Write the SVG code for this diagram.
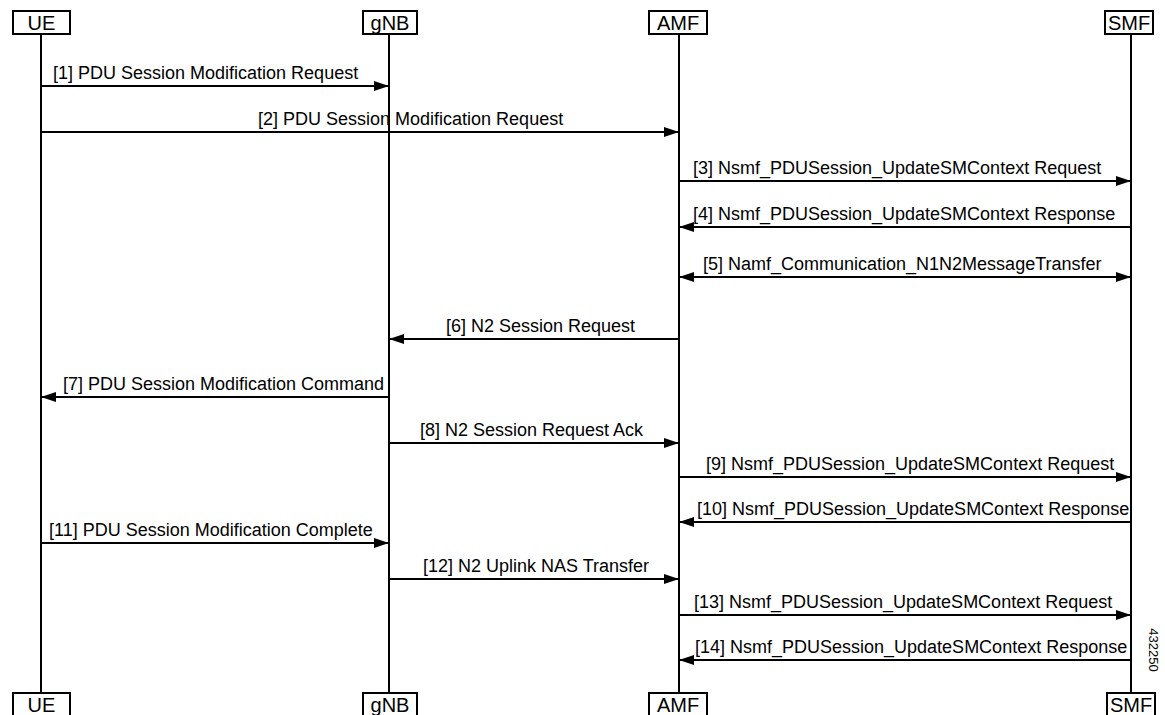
<svg xmlns="http://www.w3.org/2000/svg" width="1165" height="715" viewBox="0 0 1165 715">
<style>
text{font-family:"Liberation Sans",Arial,sans-serif;font-size:18px;fill:#000}
.box{fill:#fff;stroke:#000;stroke-width:2}
.life{stroke:#000;stroke-width:2}
.msg{stroke:#000;stroke-width:2;fill:none}
.arr{marker-end:url(#ah)}
.bi{marker-end:url(#ah);marker-start:url(#ah)}
.lbl{text-anchor:middle;font-size:20px}
</style>
<defs>
<marker id="ah" markerUnits="userSpaceOnUse" markerWidth="16" markerHeight="10" refX="15" refY="5" orient="auto-start-reverse" viewBox="0 0 16 10">
<path d="M0,0 L15,5 L0,10 z" fill="#000"/>
</marker>
</defs>
<rect width="1165" height="715" fill="#fff"/>
<g id="lifelines">
<line class="life" x1="41" y1="34" x2="41" y2="693"/>
<line class="life" x1="389" y1="34" x2="389" y2="693"/>
<line class="life" x1="679" y1="34" x2="679" y2="693"/>
<line class="life" x1="1131" y1="34" x2="1131" y2="693"/>
</g>
<g id="UE">
<rect class="box" x="13" y="11" width="57" height="23"/>
<text class="lbl" x="41.5" y="30">UE</text>
<rect class="box" x="13" y="693" width="57" height="24"/>
<text class="lbl" x="41.5" y="712">UE</text>
</g>
<g id="gNB">
<rect class="box" x="363" y="11" width="54" height="23"/>
<text class="lbl" x="390" y="30">gNB</text>
<rect class="box" x="363" y="693" width="54" height="24"/>
<text class="lbl" x="390" y="712">gNB</text>
</g>
<g id="AMF">
<rect class="box" x="649" y="11" width="58" height="23"/>
<text class="lbl" x="678" y="30">AMF</text>
<rect class="box" x="649" y="693" width="58" height="24"/>
<text class="lbl" x="678" y="712">AMF</text>
</g>
<g id="SMF">
<rect class="box" x="1105" y="11" width="48" height="23"/>
<text class="lbl" x="1129" y="30">SMF</text>
<rect class="box" x="1107" y="693" width="48" height="24"/>
<text class="lbl" x="1131" y="712">SMF</text>
</g>
<g id="connectors">
<line class="msg arr" x1="41" y1="86" x2="389" y2="86"/>
<line class="msg arr" x1="41" y1="132" x2="679" y2="132"/>
<line class="msg arr" x1="679" y1="181" x2="1131" y2="181"/>
<line class="msg arr" x1="1131" y1="227" x2="679" y2="227"/>
<line class="msg bi" x1="679" y1="277" x2="1131" y2="277"/>
<line class="msg arr" x1="679" y1="339" x2="389" y2="339"/>
<line class="msg arr" x1="389" y1="397" x2="41" y2="397"/>
<line class="msg arr" x1="389" y1="443" x2="679" y2="443"/>
<line class="msg arr" x1="679" y1="477" x2="1131" y2="477"/>
<line class="msg arr" x1="1131" y1="522" x2="679" y2="522"/>
<line class="msg arr" x1="41" y1="543" x2="389" y2="543"/>
<line class="msg arr" x1="389" y1="579" x2="679" y2="579"/>
<line class="msg arr" x1="679" y1="615" x2="1131" y2="615"/>
<line class="msg arr" x1="1131" y1="660" x2="679" y2="660"/>
</g>
<g id="labels">
<text x="53" y="79">[1] PDU Session Modification Request</text>
<text x="258" y="125">[2] PDU Session Modification Request</text>
<text x="693" y="174">[3] Nsmf_PDUSession_UpdateSMContext Request</text>
<text x="693" y="220">[4] Nsmf_PDUSession_UpdateSMContext Response</text>
<text x="703" y="270">[5] Namf_Communication_N1N2MessageTransfer</text>
<text x="446" y="332">[6] N2 Session Request</text>
<text x="63" y="390">[7] PDU Session Modification Command</text>
<text x="420" y="436">[8] N2 Session Request Ack</text>
<text x="706" y="470">[9] Nsmf_PDUSession_UpdateSMContext Request</text>
<text x="697" y="515">[10] Nsmf_PDUSession_UpdateSMContext Response</text>
<text x="49" y="536">[11] PDU Session Modification Complete</text>
<text x="423" y="572">[12] N2 Uplink NAS Transfer</text>
<text x="694" y="608">[13] Nsmf_PDUSession_UpdateSMContext Request</text>
<text x="695" y="653">[14] Nsmf_PDUSession_UpdateSMContext Response</text>
</g>
<text x="1149" y="650" transform="rotate(90 1149 650)" style="font-size:13px;text-anchor:middle">432250</text>
</svg>
